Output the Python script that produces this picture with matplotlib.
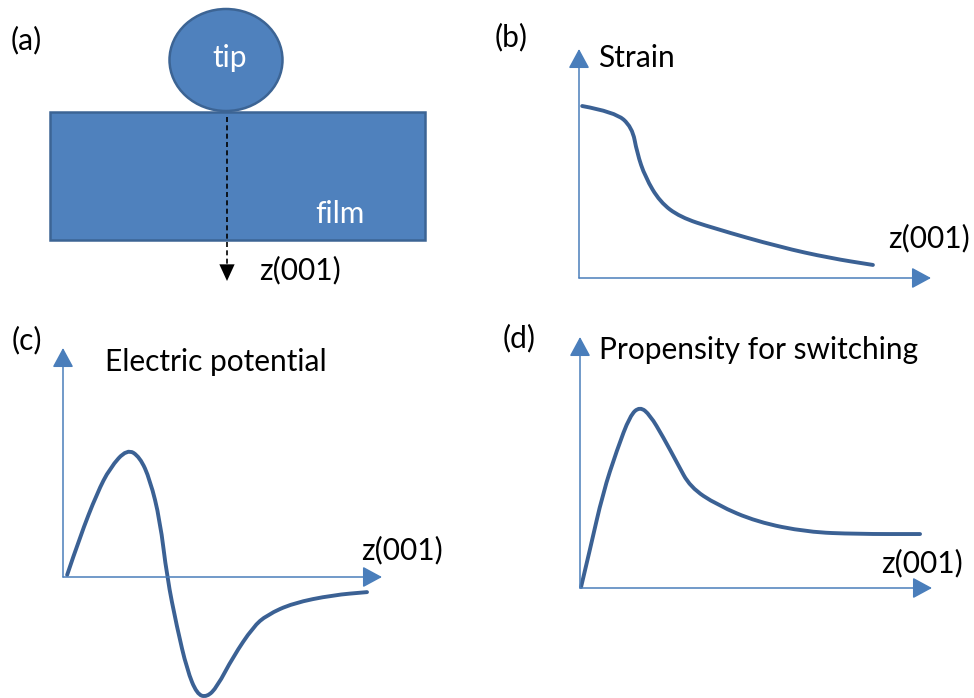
import numpy as np
import matplotlib
matplotlib.use("Agg")
import matplotlib.pyplot as plt
from matplotlib.patches import Rectangle, Ellipse, PathPatch
from matplotlib.path import Path

plt.rcParams['font.family'] = ['Lato', 'DejaVu Sans']

# schematic curves, in units of each panel's axis arrows (0 = origin, 1 = arrow tip)
strain_z = [0.009, 0.102, 0.151, 0.165, 0.188, 0.230, 0.287, 0.381, 0.571, 0.713, 0.835]
strain_v = [0.751, 0.725, 0.659, 0.546, 0.441, 0.332, 0.266, 0.218, 0.135, 0.087, 0.057]

pot_z = [0.013, 0.053, 0.107, 0.147, 0.201, 0.241, 0.273, 0.304, 0.326, 0.357,
         0.389, 0.420, 0.451, 0.483, 0.533, 0.596, 0.639, 0.721, 0.846, 0.953]
pot_v = [0.009, 0.175, 0.367, 0.476, 0.560, 0.524, 0.424, 0.249, 0.0, -0.218,
         -0.406, -0.512, -0.525, -0.480, -0.349, -0.218, -0.166, -0.114, -0.079, -0.066]

sw_z = [0.003, 0.028, 0.065, 0.105, 0.142, 0.170, 0.199, 0.236, 0.276, 0.313,
        0.389, 0.503, 0.645, 0.787, 0.966]
sw_v = [0.004, 0.151, 0.378, 0.550, 0.687, 0.723, 0.689, 0.602, 0.498, 0.402,
        0.331, 0.263, 0.223, 0.215, 0.215]

W, H = 974, 698
FILL = '#4f81bd'
EDGE = '#3c6494'
CURVE = '#3b6194'
AXIS = '#4a7ebb'
FS = 21.5

fig = plt.figure(figsize=(W / 100, H / 100), dpi=100)


def txt(x, y, s, **kw):
    # place text using pixel position from the top-left corner
    kw.setdefault('fontsize', FS)
    kw.setdefault('va', 'center')
    fig.text(x / W, 1 - y / H, s, **kw)


def panel(x0, y_top, x1, y0):
    # axes spanning origin (x0, y0) to arrow tips (x1, y_top), in pixels
    ax = fig.add_axes([x0 / W, 1 - y0 / H, (x1 - x0) / W, (y0 - y_top) / H])
    ax.set_xlim(0, 1)
    ax.set_ylim(0, 1)
    ax.axis('off')
    arrow = dict(arrowstyle='-|>,head_length=12,head_width=6.5', color=AXIS,
                 lw=1.1, shrinkA=0, shrinkB=0, mutation_scale=1)
    ax.annotate('', xy=(1, 0), xytext=(0, 0), xycoords='axes fraction',
                arrowprops=arrow, annotation_clip=False)
    ax.annotate('', xy=(0, 1), xytext=(0, 0), xycoords='axes fraction',
                arrowprops=arrow, annotation_clip=False)
    return ax


def smooth_curve(ax, z, v):
    # quadratic bezier through midpoints so the sketch reads as a smooth stroke
    pts = np.column_stack([z, v])
    verts = [pts[0]]
    codes = [Path.MOVETO]
    for i in range(1, len(pts) - 1):
        verts += [pts[i], (pts[i] + pts[i + 1]) / 2]
        codes += [Path.CURVE3, Path.CURVE3]
    verts.append(pts[-1])
    codes.append(Path.LINETO)
    ax.add_patch(PathPatch(Path(verts, codes), fill=False, edgecolor=CURVE,
                           lw=2.8, capstyle='round', joinstyle='round', clip_on=False))


# (a) tip on film
axa = fig.add_axes([0, 0, 1, 1])
axa.set_xlim(0, W)
axa.set_ylim(H, 0)
axa.axis('off')
axa.add_patch(Rectangle((50, 112), 375, 128, facecolor=FILL, edgecolor=EDGE, lw=1.8))
axa.add_patch(Ellipse((226, 60), 113, 102, facecolor=FILL, edgecolor=EDGE, lw=1.8))
axa.plot([227, 227], [117, 266], color='black', lw=1.2, ls=(0, (3, 2)))
axa.annotate('', xy=(227, 281), xytext=(227, 262),
             arrowprops=dict(arrowstyle='-|>,head_length=12,head_width=5.5',
                             color='black', lw=0, shrinkA=0, shrinkB=0, mutation_scale=1))
txt(230, 58, 'tip', color='white', ha='center')
txt(340, 214, 'film', color='white', ha='center')
txt(259, 270, 'z(001)')
txt(11, 40, '(a)')

# (b) strain
axb = panel(579, 49, 931, 278)
smooth_curve(axb, strain_z, strain_v)
txt(495, 37, '(b)')
txt(598, 58, 'Strain')
txt(970, 238, 'z(001)', ha='right')

# (c) electric potential
axc = panel(63, 348, 382, 577)
smooth_curve(axc, pot_z, pot_v)
txt(12, 340, '(c)')
txt(105, 362, 'Electric potential')
txt(443, 550, 'z(001)', ha='right')

# (d) propensity for switching
axd = panel(580, 337, 932, 588)
smooth_curve(axd, sw_z, sw_v)
txt(503, 338, '(d)')
txt(599, 350, 'Propensity for switching')
txt(963, 563, 'z(001)', ha='right')

fig.savefig('out.png', dpi=100)
